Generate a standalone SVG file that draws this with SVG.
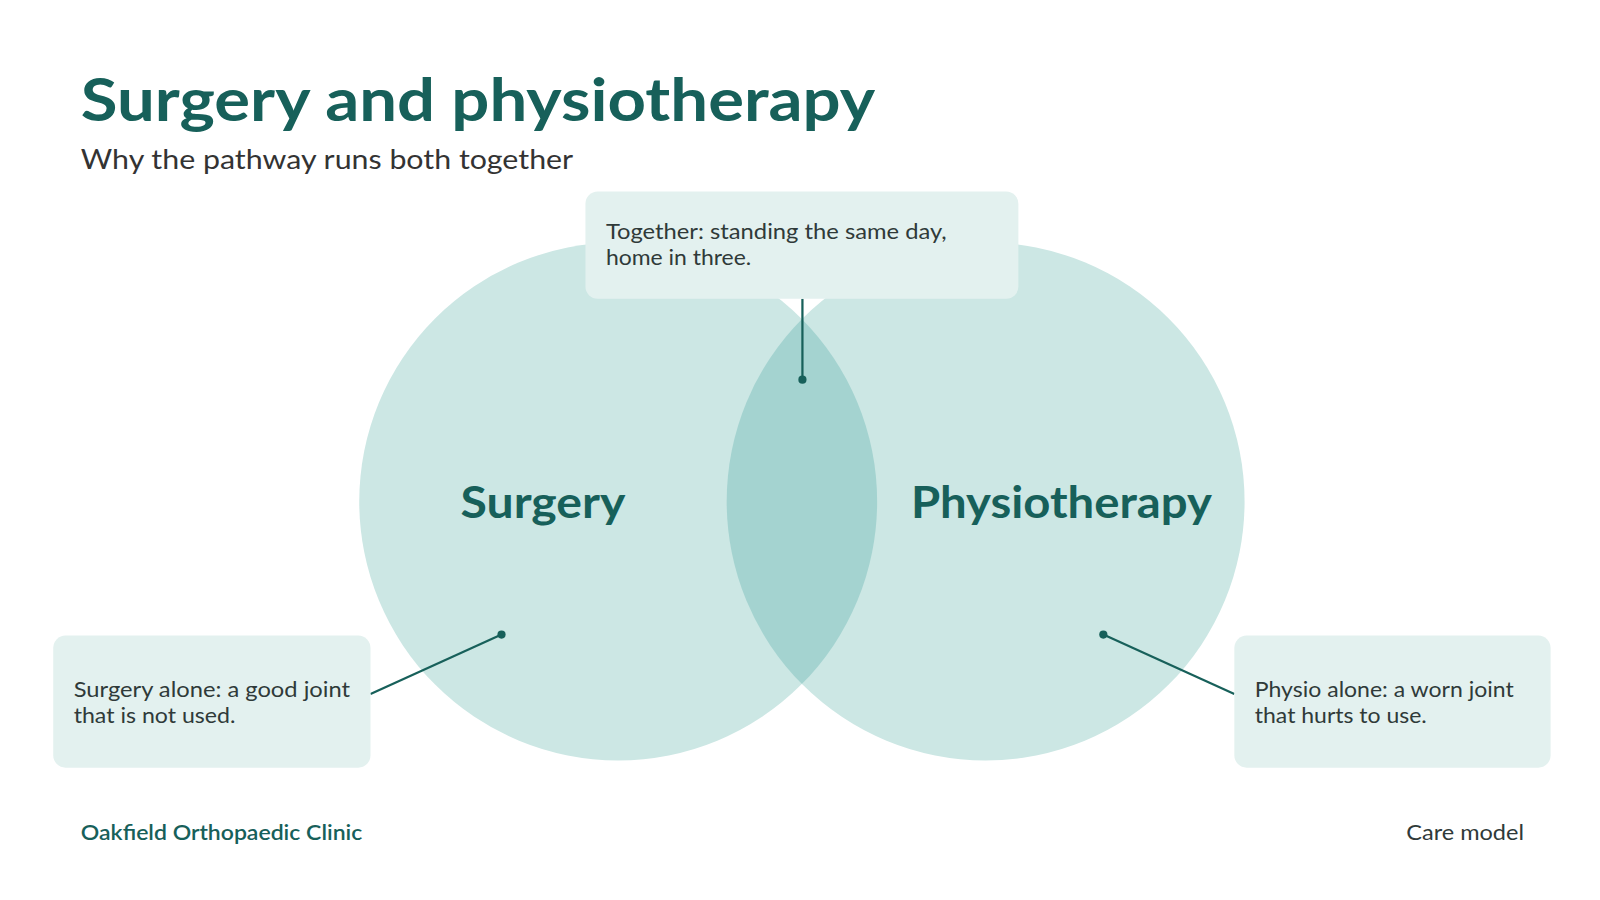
<svg xmlns="http://www.w3.org/2000/svg" width="1600" height="900" viewBox="0 0 1600 900">
<style>
.t{font-family:Lato,"Noto Sans",sans-serif}
.box{fill:#e3f1ef}
.ct{font-family:Lato,"Noto Sans",sans-serif;font-size:20px;fill:#2f3a39}
.lbl{font-family:Lato,"Noto Sans",sans-serif;font-size:42px;font-weight:700;fill:#17605a}
.ln{stroke:#17605a;stroke-width:2.2;fill:none}
.dot{fill:#17605a}
</style>
<defs><clipPath id="cl"><circle cx="604" cy="490" r="253"/></clipPath></defs>
<rect width="1600" height="900" fill="#fff"/>
<g transform="scale(1.0235)">
<text class="t" x="79" y="118" font-size="58" font-weight="700" fill="#17605a" textLength="776" lengthAdjust="spacingAndGlyphs">Surgery and physiotherapy</text>
<text class="t" x="79" y="165" font-size="26" fill="#333" textLength="481" lengthAdjust="spacingAndGlyphs">Why the pathway runs both together</text>
<g id="surgery"><circle cx="604" cy="490" r="253" fill="#cce7e4"/><text class="lbl" x="450" y="506" textLength="161" lengthAdjust="spacingAndGlyphs">Surgery</text></g>
<g id="physio"><circle cx="963" cy="490" r="253" fill="#cce7e4"/><circle cx="963" cy="490" r="253" fill="#a4d3d0" clip-path="url(#cl)"/><text class="lbl" x="890" y="506" textLength="294" lengthAdjust="spacingAndGlyphs">Physiotherapy</text></g>
<g id="connectors">
<path class="ln" d="M784 292V371"/><circle class="dot" cx="784" cy="371" r="4"/>
<path class="ln" d="M362 678L490 620"/><circle class="dot" cx="490" cy="620" r="4"/>
<path class="ln" d="M1206 678L1078 620"/><circle class="dot" cx="1078" cy="620" r="4"/>
</g>
<g id="together"><rect class="box" x="572" y="187" width="423" height="105" rx="12"/><text class="ct" x="592" y="234" textLength="333" lengthAdjust="spacingAndGlyphs">Together: standing the same day,</text><text class="ct" x="592" y="259" textLength="142" lengthAdjust="spacingAndGlyphs">home in three.</text></g>
<g id="surgery-alone"><rect class="box" x="52" y="621" width="310" height="129" rx="12"/><text class="ct" x="72" y="681" textLength="270" lengthAdjust="spacingAndGlyphs">Surgery alone: a good joint</text><text class="ct" x="72" y="706" textLength="158" lengthAdjust="spacingAndGlyphs">that is not used.</text></g>
<g id="physio-alone"><rect class="box" x="1206" y="621" width="309" height="129" rx="12"/><text class="ct" x="1226" y="681" textLength="253" lengthAdjust="spacingAndGlyphs">Physio alone: a worn joint</text><text class="ct" x="1226" y="706" textLength="168" lengthAdjust="spacingAndGlyphs">that hurts to use.</text></g>
<text class="t" x="79" y="821" font-size="20" font-weight="600" fill="#17605a" textLength="275" lengthAdjust="spacingAndGlyphs">Oakfield Orthopaedic Clinic</text>
<text class="t" x="1374" y="821" font-size="20" fill="#2f3a39" textLength="115" lengthAdjust="spacingAndGlyphs">Care model</text>
</g>
</svg>
